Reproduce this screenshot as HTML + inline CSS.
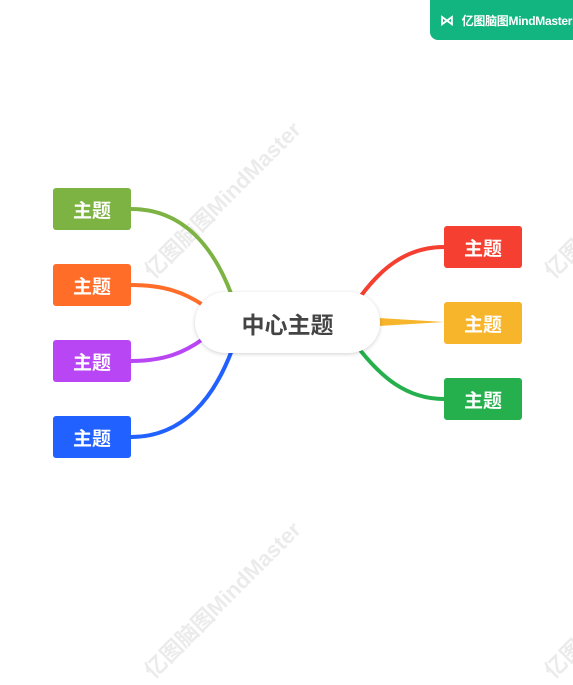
<!DOCTYPE html>
<html><head><meta charset="utf-8"><style>
body{margin:0;width:573px;height:644px;background:#fff;position:relative;overflow:hidden;font-family:"Liberation Sans","Noto Sans CJK SC",sans-serif}
.n{position:absolute;width:78px;height:42px;border-radius:3px;color:#fff;font-size:19px;font-weight:bold;display:flex;align-items:center;justify-content:center}
.wm{position:absolute;color:rgba(0,0,0,0.08);font-size:22px;font-weight:bold;transform:rotate(-45deg);transform-origin:left top;white-space:nowrap}
</style></head><body>
<div class="wm" style="left:136px;top:262px">亿图脑图MindMaster</div>
<div class="wm" style="left:136px;top:662px">亿图脑图MindMaster</div>
<div class="wm" style="left:536px;top:262px">亿图脑图MindMaster</div>
<div class="wm" style="left:536px;top:662px">亿图脑图MindMaster</div>
<svg width="573" height="644" style="position:absolute;left:0;top:0" fill="none">
<path d="M131 209 C185 209 215 250 232 296" stroke="#7cb342" stroke-width="4"/>
<path d="M131 285 C165 285 185 293 203 305" stroke="#ff6d28" stroke-width="4"/>
<path d="M131 361 C165 361 185 352 203 339" stroke="#b946f5" stroke-width="4"/>
<path d="M131 437 C185 437 215 395 232 350" stroke="#2061ff" stroke-width="4"/>
<path d="M444 247 C405 247 380 270 360 297" stroke="#f53f30" stroke-width="4"/>
<path d="M444 322 L378 318 L378 326 Z" fill="#f7b52b"/>
<path d="M444 399 C405 399 380 375 360 350" stroke="#25b04d" stroke-width="4"/>
</svg>
<div style="position:absolute;left:195px;top:292px;width:185px;height:61px;border-radius:31px;background:#fff;box-shadow:0 1px 4px rgba(0,0,0,0.18);display:flex;align-items:center;justify-content:center;font-size:23px;font-weight:bold;color:#444">中心主题</div>
<div class="n" style="left:53px;top:188px;background:#7cb342">主题</div>
<div class="n" style="left:53px;top:264px;background:#ff6d28">主题</div>
<div class="n" style="left:53px;top:340px;background:#b946f5">主题</div>
<div class="n" style="left:53px;top:416px;background:#2061ff">主题</div>
<div class="n" style="left:444px;top:226px;background:#f53f30">主题</div>
<div class="n" style="left:444px;top:302px;background:#f7b52b">主题</div>
<div class="n" style="left:444px;top:378px;background:#25b04d">主题</div>
<div style="position:absolute;left:430px;top:0;width:143px;height:40px;background:#12b57f;border-bottom-left-radius:8px;color:#fff;font-size:12px;font-weight:bold;display:flex;align-items:center;white-space:nowrap;letter-spacing:-0.3px"><span style="margin-left:10px;margin-right:8px;font-size:14px">⋈</span>亿图脑图MindMaster</div>
</body></html>
